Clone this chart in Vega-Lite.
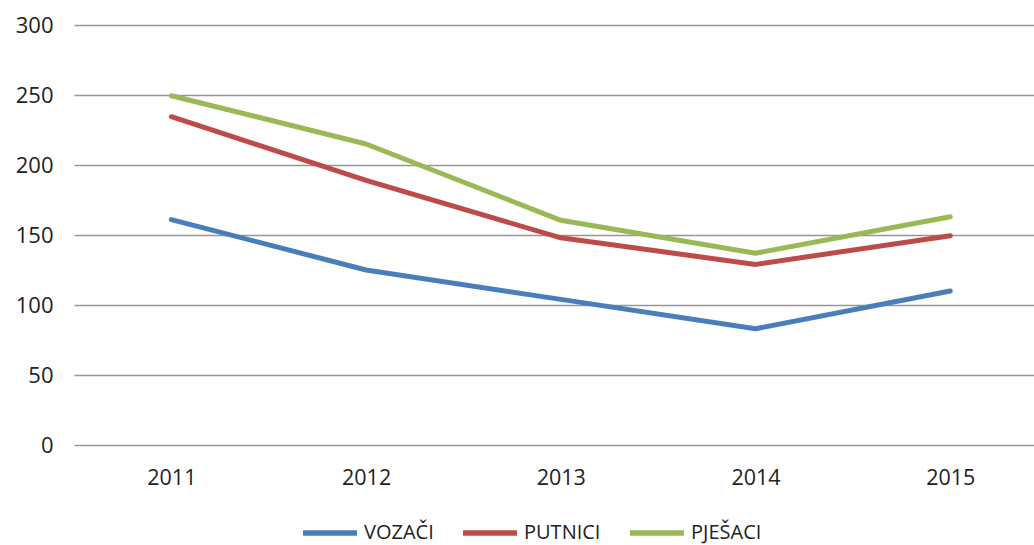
{
  "$schema": "https://vega.github.io/schema/vega-lite/v6.json",
  "width": 960,
  "height": 420,
  "autosize": {"type": "none"},
  "padding": {"left": 74, "top": 25, "right": 0, "bottom": 100},
  "background": "white",
  "config": {"view": {"stroke": null}, "font": "Open Sans"},
  "data": {
    "values": [
      {"year": 2011, "series": "VOZAČI", "value": 161},
      {"year": 2012, "series": "VOZAČI", "value": 125},
      {"year": 2013, "series": "VOZAČI", "value": 104},
      {"year": 2014, "series": "VOZAČI", "value": 83},
      {"year": 2015, "series": "VOZAČI", "value": 110},
      {"year": 2011, "series": "PUTNICI", "value": 234.5},
      {"year": 2012, "series": "PUTNICI", "value": 189},
      {"year": 2013, "series": "PUTNICI", "value": 148},
      {"year": 2014, "series": "PUTNICI", "value": 129},
      {"year": 2015, "series": "PUTNICI", "value": 149.5},
      {"year": 2011, "series": "PJEŠACI", "value": 249.5},
      {"year": 2012, "series": "PJEŠACI", "value": 215},
      {"year": 2013, "series": "PJEŠACI", "value": 160.5},
      {"year": 2014, "series": "PJEŠACI", "value": 137},
      {"year": 2015, "series": "PJEŠACI", "value": 163}
    ]
  },
  "mark": {"type": "line", "strokeWidth": 5, "strokeCap": "round", "strokeJoin": "round"},
  "encoding": {
    "x": {
      "field": "year",
      "type": "quantitative",
      "scale": {"domain": [2010.5, 2015.43], "nice": false, "zero": false},
      "axis": {
        "title": null,
        "values": [2011, 2012, 2013, 2014, 2015],
        "format": "d",
        "labelAngle": 0,
        "ticks": false,
        "domain": false,
        "grid": false,
        "labelPadding": 22,
        "labelFontSize": 21.5,
        "labelColor": "#222222",
        "labelFont": "Open Sans"
      }
    },
    "y": {
      "field": "value",
      "type": "quantitative",
      "scale": {"domain": [0, 300], "nice": false},
      "axis": {
        "title": null,
        "values": [0, 50, 100, 150, 200, 250, 300],
        "ticks": false,
        "domain": false,
        "grid": true,
        "gridColor": "#969696",
        "gridWidth": 1.3,
        "labelPadding": 21,
        "labelFontSize": 22,
        "labelColor": "#222222",
        "labelFont": "Open Sans"
      }
    },
    "color": {
      "field": "series",
      "type": "nominal",
      "scale": {
        "domain": ["VOZAČI", "PUTNICI", "PJEŠACI"],
        "range": ["#4A7EBB", "#BE4B48", "#98B954"]
      },
      "legend": {
        "title": null,
        "orient": "none",
        "direction": "horizontal",
        "legendX": 226,
        "legendY": 495,
        "padding": 0,
        "clipHeight": 26,
        "symbolType": "stroke",
        "symbolSize": 2916,
        "symbolStrokeWidth": 5.5,
        "labelFontSize": 20,
        "labelColor": "#222222",
        "labelFont": "Open Sans",
        "labelOffset": 4,
        "columnPadding": 26
      }
    }
  }
}
